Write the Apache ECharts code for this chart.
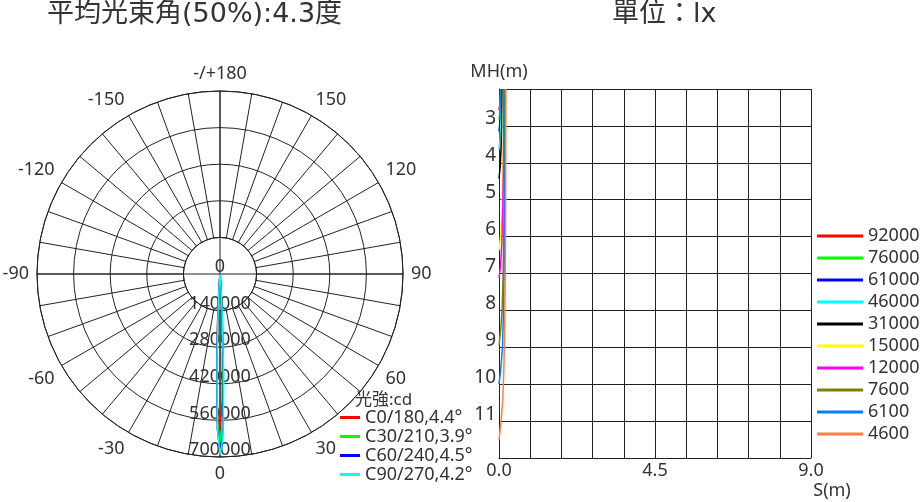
<!DOCTYPE html>
<html>
<head>
<meta charset="utf-8">
<title>配光曲線</title>
<script src="https://cdn.jsdelivr.net/npm/echarts@6/dist/echarts.min.js"></script>
<style>
  html, body { margin: 0; padding: 0; background: #fff; }
  #chart { width: 922px; height: 502px; }
</style>
</head>
<body>
<div id="chart"></div>
<script>
  // 光強分佈: angle from nadir (deg, minus = left side) and intensity (cd)
  const lobeAngles = [-8, -6, -4, -3, -2, -1, 0, 1, 2, 3, 4, 6, 8]
  const planeNames = ['C0/180,4.4°', 'C30/210,3.9°', 'C60/240,4.5°', 'C90/270,4.2°']
  const planeColors = ['#ff0000', '#00ff00', '#0000ff', '#00ffff']
  const c0Values = [2000, 9000, 70000, 170000, 350000, 540000, 600000, 480000, 270000, 110000, 35000, 5000, 1500]
  const c30Values = [1500, 6000, 45000, 130000, 320000, 560000, 650000, 560000, 320000, 130000, 45000, 6000, 1500]
  const c60Values = [2000, 8000, 60000, 160000, 350000, 590000, 680000, 610000, 380000, 170000, 65000, 9000, 2000]
  const c90Values = [1500, 6000, 50000, 140000, 330000, 590000, 690000, 630000, 410000, 180000, 65000, 9000, 2000]
  const planeValues = [c0Values, c30Values, c60Values, c90Values]

  // 等照度曲線: [S(m), MH(m)]
  const luxLevels = ['92000', '76000', '61000', '46000', '31000', '15000', '12000', '7600', '6100', '4600']
  const luxColors = ['#ff0000', '#00ff00', '#0000ff', '#00ffff', '#000000', '#ffff00', '#ff00ff', '#808000', '#0080ff', '#ff8040']
  const lux92000 = [[0, 2.57], [0.025, 2.4], [0.035, 2.2], [0.04, 2.0]]
  const lux76000 = [[0, 2.83], [0.025, 2.6], [0.04, 2.3], [0.05, 2.0]]
  const lux61000 = [[0, 3.15], [0.03, 2.9], [0.05, 2.5], [0.06, 2.0]]
  const lux46000 = [[0, 3.64], [0.035, 3.3], [0.06, 2.8], [0.07, 2.0]]
  const lux31000 = [[0, 4.43], [0.035, 4.1], [0.06, 3.6], [0.08, 3.0], [0.09, 2.0]]
  const lux15000 = [[0, 6.37], [0.045, 6.0], [0.08, 5.4], [0.1, 4.5], [0.12, 3.5], [0.13, 2.0]]
  const lux12000 = [[0, 7.12], [0.045, 6.8], [0.08, 6.2], [0.11, 5.2], [0.13, 4.0], [0.14, 2.0]]
  const lux7600 = [[0, 8.95], [0.05, 8.5], [0.09, 8.0], [0.12, 7.0], [0.145, 5.5], [0.155, 4.0], [0.165, 2.0]]
  const lux6100 = [[0, 10.0], [0.05, 9.6], [0.1, 9.0], [0.13, 8.0], [0.155, 6.5], [0.17, 4.5], [0.18, 2.0]]
  const lux4600 = [[0, 11.5], [0.06, 11.0], [0.11, 10.4], [0.14, 9.6], [0.165, 8.5], [0.185, 6.5], [0.195, 4.0], [0.2, 2.0]]
  const luxCurves = [lux92000, lux76000, lux61000, lux46000, lux31000, lux15000, lux12000, lux7600, lux6100, lux4600]

  const font = "'Noto Sans', 'Noto Sans CJK TC', sans-serif"
  const titleFont = "'DejaVu Sans', 'Noto Sans CJK TC', sans-serif"
  const textColor = '#333'
  const lineColor = '#222'

  const chart = echarts.init(document.getElementById('chart'))

  const polarSeries = planeNames.map((name, i) => ({
    name,
    type: 'line',
    coordinateSystem: 'polar',
    polarIndex: 1,
    symbol: 'none',
    animation: false,
    lineStyle: { color: planeColors[i], width: 1.5 },
    itemStyle: { color: planeColors[i] },
    data: planeValues[i].map((v, k) => [v, (lobeAngles[k] + 360) % 360]),
  }))

  const luxSeries = luxLevels.map((name, i) => ({
    name,
    type: 'line',
    xAxisIndex: 0,
    yAxisIndex: 0,
    symbol: 'none',
    animation: false,
    z: 5,
    lineStyle: { color: luxColors[i], width: 1.5 },
    itemStyle: { color: luxColors[i] },
    data: luxCurves[i],
  }))

  const option = {
    textStyle: { fontFamily: font },
    title: [
      {
        text: '平均光束角(50%):4.3度',
        left: 47,
        top: 1,
        padding: 0,
        textStyle: { fontSize: 27, fontWeight: 'normal', color: textColor, fontFamily: titleFont },
      },
      {
        text: '單位：lx',
        left: 612,
        top: 1,
        padding: 0,
        textStyle: { fontSize: 27, fontWeight: 'normal', color: textColor, fontFamily: titleFont },
      },
      {
        text: '光強:cd',
        left: 355,
        top: 392,
        padding: 0,
        textStyle: { fontSize: 17, fontWeight: 'normal', color: textColor, fontFamily: font },
      },
    ],
    legend: [
      {
        data: planeNames,
        orient: 'vertical',
        left: 340,
        top: 408,
        padding: 0,
        icon: 'rect',
        itemWidth: 20,
        itemHeight: 3,
        itemGap: 0,
        textStyle: { fontSize: 18, lineHeight: 19, color: textColor, fontFamily: font },
      },
      {
        data: luxLevels,
        orient: 'vertical',
        left: 817,
        top: 225,
        padding: 0,
        icon: 'rect',
        itemWidth: 46,
        itemHeight: 3,
        itemGap: 0,
        textStyle: { fontSize: 18, lineHeight: 22, color: textColor, fontFamily: font },
      },
    ],
    polar: [
      { center: [220, 274], radius: [36.6, 183] },
      { center: [220, 274], radius: [0, 183] },
    ],
    angleAxis: [
      {
        polarIndex: 0,
        type: 'value',
        min: 0,
        max: 360,
        interval: 10,
        startAngle: 270,
        clockwise: false,
        axisLine: { lineStyle: { color: lineColor, width: 1 } },
        axisTick: { show: false },
        splitLine: { show: true, lineStyle: { color: lineColor, width: 1 } },
        axisLabel: {
          margin: 8,
          fontSize: 18,
          color: textColor,
          fontFamily: font,
          formatter: (v) => {
            if (v % 30 !== 0 || v === 360) return ''
            if (v === 180) return '-/+180'
            return String(v > 180 ? v - 360 : v)
          },
        },
      },
      {
        polarIndex: 1,
        type: 'value',
        min: 0,
        max: 360,
        interval: 90,
        startAngle: 270,
        clockwise: false,
        axisLine: { show: false },
        axisTick: { show: false },
        axisLabel: { show: false },
        splitLine: { show: true, lineStyle: { color: lineColor, width: 1 } },
      },
    ],
    radiusAxis: [
      {
        polarIndex: 0,
        min: 0,
        max: 1,
        axisLine: { show: false },
        axisTick: { show: false },
        axisLabel: { show: false },
        splitLine: { show: false },
      },
      {
        polarIndex: 1,
        min: 0,
        max: 700000,
        interval: 140000,
        axisLine: { show: false },
        axisTick: { show: false },
        splitLine: { show: true, lineStyle: { color: lineColor, width: 1 } },
        axisLabel: {
          margin: 0,
          align: 'center',
          verticalAlign: 'bottom',
          lineHeight: 14,
          fontSize: 18,
          color: textColor,
          fontFamily: font,
          formatter: (v) => String(v),
        },
      },
    ],
    grid: { left: 499, top: 89, width: 312, height: 369, containLabel: false },
    xAxis: {
      type: 'value',
      min: 0,
      max: 9,
      interval: 0.9,
      name: 'S(m)',
      nameLocation: 'end',
      nameGap: 21,
      nameTextStyle: {
        fontSize: 18,
        color: textColor,
        fontFamily: font,
        align: 'center',
        verticalAlign: 'top',
        padding: [24, 0, 0, 0],
      },
      axisLine: { lineStyle: { color: lineColor } },
      axisTick: { show: false },
      splitLine: { show: true, lineStyle: { color: lineColor, width: 1 } },
      axisLabel: {
        margin: 4,
        fontSize: 18,
        color: textColor,
        fontFamily: font,
        formatter: (v) => {
          const keep = [0, 4.5, 9].some((t) => Math.abs(v - t) < 1e-6)
          return keep ? v.toFixed(1) : ''
        },
      },
    },
    yAxis: {
      type: 'value',
      inverse: true,
      min: 2,
      max: 12,
      interval: 1,
      name: 'MH(m)',
      nameLocation: 'start',
      nameGap: 8,
      nameTextStyle: { fontSize: 18, color: textColor, fontFamily: font, align: 'center' },
      axisLine: { show: true, lineStyle: { color: lineColor } },
      axisTick: { show: false },
      splitLine: { show: true, lineStyle: { color: lineColor, width: 1 } },
      axisLabel: {
        margin: 3,
        fontSize: 19,
        lineHeight: 14,
        verticalAlign: 'bottom',
        color: textColor,
        fontFamily: font,
        formatter: (v) => (v === 2 || v === 12 ? '' : String(v)),
      },
    },
    series: [...polarSeries, ...luxSeries],
  }

  chart.setOption(option)
</script>
</body>
</html>
